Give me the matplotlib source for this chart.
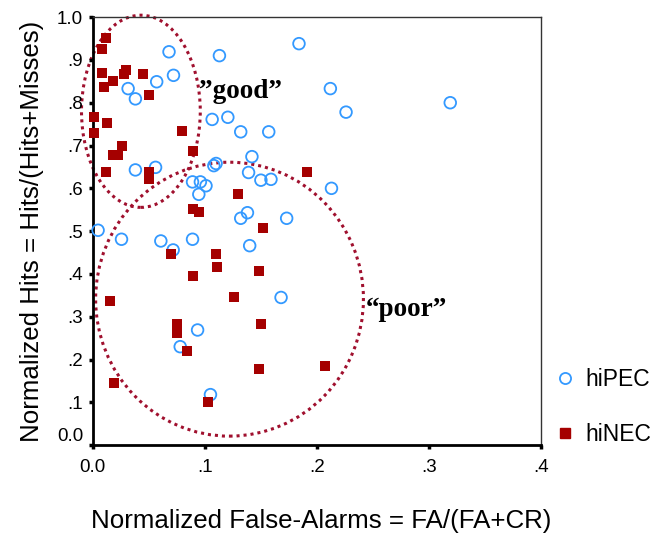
import numpy as np
import matplotlib
matplotlib.use("Agg")
import matplotlib.pyplot as plt
from matplotlib.patches import Ellipse
from matplotlib.lines import Line2D

# hiPEC (open blue circles)
pec_x = [.068, .113, .184, .072, .057, .0315, .038, .1065, .1205, .132, .157, .142,
         .038, .056, .108, .110, .139, .150, .159, .089, .096, .101, .0946, .138,
         .132, .173, .0047, .0256, .0607, .0717, .089, .140, .168, .0935, .078,
         .105, .212, .226, .319, .213]
pec_y = [.919, .910, .938, .864, .849, .833, .809, .761, .766, .732, .732, .674,
         .643, .649, .653, .658, .637, .619, .621, .615, .615, .606, .586, .543,
         .530, .530, .502, .481, .477, .456, .481, .466, .345, .269, .230,
         .118, .833, .778, .800, .600]

# hiNEC (filled red squares)
nec_x = [.0116, .0078, .0078, .0295, .028, .0444, .018, .010, .050, .001, .013, .001,
         .080, .0256, .018, .0226, .089, .0116, .050, .050, .191, .130, .0896, .0946,
         .152, .070, .110, .111, .148, .089, .126, .015, .0747, .0747, .150, .084,
         .1485, .0185, .103, .207]
nec_y = [.951, .925, .870, .876, .868, .867, .850, .836, .818, .766, .753, .730,
         .735, .699, .678, .678, .688, .637, .639, .621, .637, .586, .551, .545,
         .508, .446, .446, .417, .407, .395, .345, .336, .284, .263, .284, .220,
         .179, .146, .100, .185]

# ellipses: centre x, centre y, width, height
good_ell = (.0429, .780, .106, .449)
poor_ell = (.122, .341, .239, .640)

blue = '#3399ff'
red = '#a50000'
ell_col = '#a0102e'

plt.rcParams['font.family'] = ['Liberation Sans', 'DejaVu Sans']

fig = plt.figure(figsize=(6.63, 5.35), dpi=100)
ax = fig.add_axes([0.140, 0.168, 0.676, 0.800])

for cx, cy, w, h in [good_ell, poor_ell]:
    ax.add_patch(Ellipse((cx, cy), w, h, fill=False, edgecolor=ell_col,
                         linestyle=(0, (1, 1.3)), linewidth=2.2, zorder=1,
                         clip_on=False))

ax.scatter(pec_x, pec_y, s=70, facecolors='none', edgecolors=blue,
           linewidths=1.3, zorder=3, clip_on=False)
ax.scatter(nec_x, nec_y, s=45, marker='s', color=red, linewidths=0, zorder=3,
           clip_on=False)

ax.text(.095, .826, '\u201dgood\u201d', family='Liberation Serif', weight='bold',
        fontsize=19.5, va='center', ha='left')
ax.text(.244, .318, '\u201cpoor\u201d', family='Liberation Serif', weight='bold',
        fontsize=19.5, va='center', ha='left')

ax.set_xlim(0, .4)
ax.set_ylim(0, 1.0)
ax.set_xticks([0, .1, .2, .3, .4])
ax.set_xticklabels(['0.0', '.1', '.2', '.3', '.4'])
ax.set_yticks(np.arange(0, 1.01, .1))
ax.set_yticklabels(['0.0', '.1', '.2', '.3', '.4', '.5', '.6', '.7', '.8', '.9', '1.0'])
ax.get_yticklabels()[0].set_va('bottom')
ax.tick_params(direction='out', length=3, width=2.5, labelsize=13.5)
ax.tick_params(axis='x', pad=7)
ax.tick_params(axis='y', pad=4)

for side in ['left', 'bottom']:
    ax.spines[side].set_linewidth(2)
for side in ['top', 'right']:
    ax.spines[side].set_linewidth(1)
    ax.spines[side].set_color('#333333')

ax.set_xlabel('Normalized False-Alarms = FA/(FA+CR)', fontsize=18.6, labelpad=24)
ax.xaxis.label.set_x(0.51)
ax.set_ylabel('Normalized Hits = Hits/(Hits+Misses)', fontsize=18.6, labelpad=9)

handles = [Line2D([], [], marker='o', linestyle='none', markerfacecolor='none',
                  markeredgecolor=blue, markersize=8, markeredgewidth=1.3),
           Line2D([], [], marker='s', linestyle='none', color=red, markersize=7)]
fig.legend(handles, ['hiPEC', 'hiNEC'], loc='lower left',
           bbox_to_anchor=(0.80, 0.127), frameon=False, fontsize=16.5,
           handletextpad=0.3, labelspacing=1.4, handlelength=1.2)

fig.savefig('out.png', dpi=100)
